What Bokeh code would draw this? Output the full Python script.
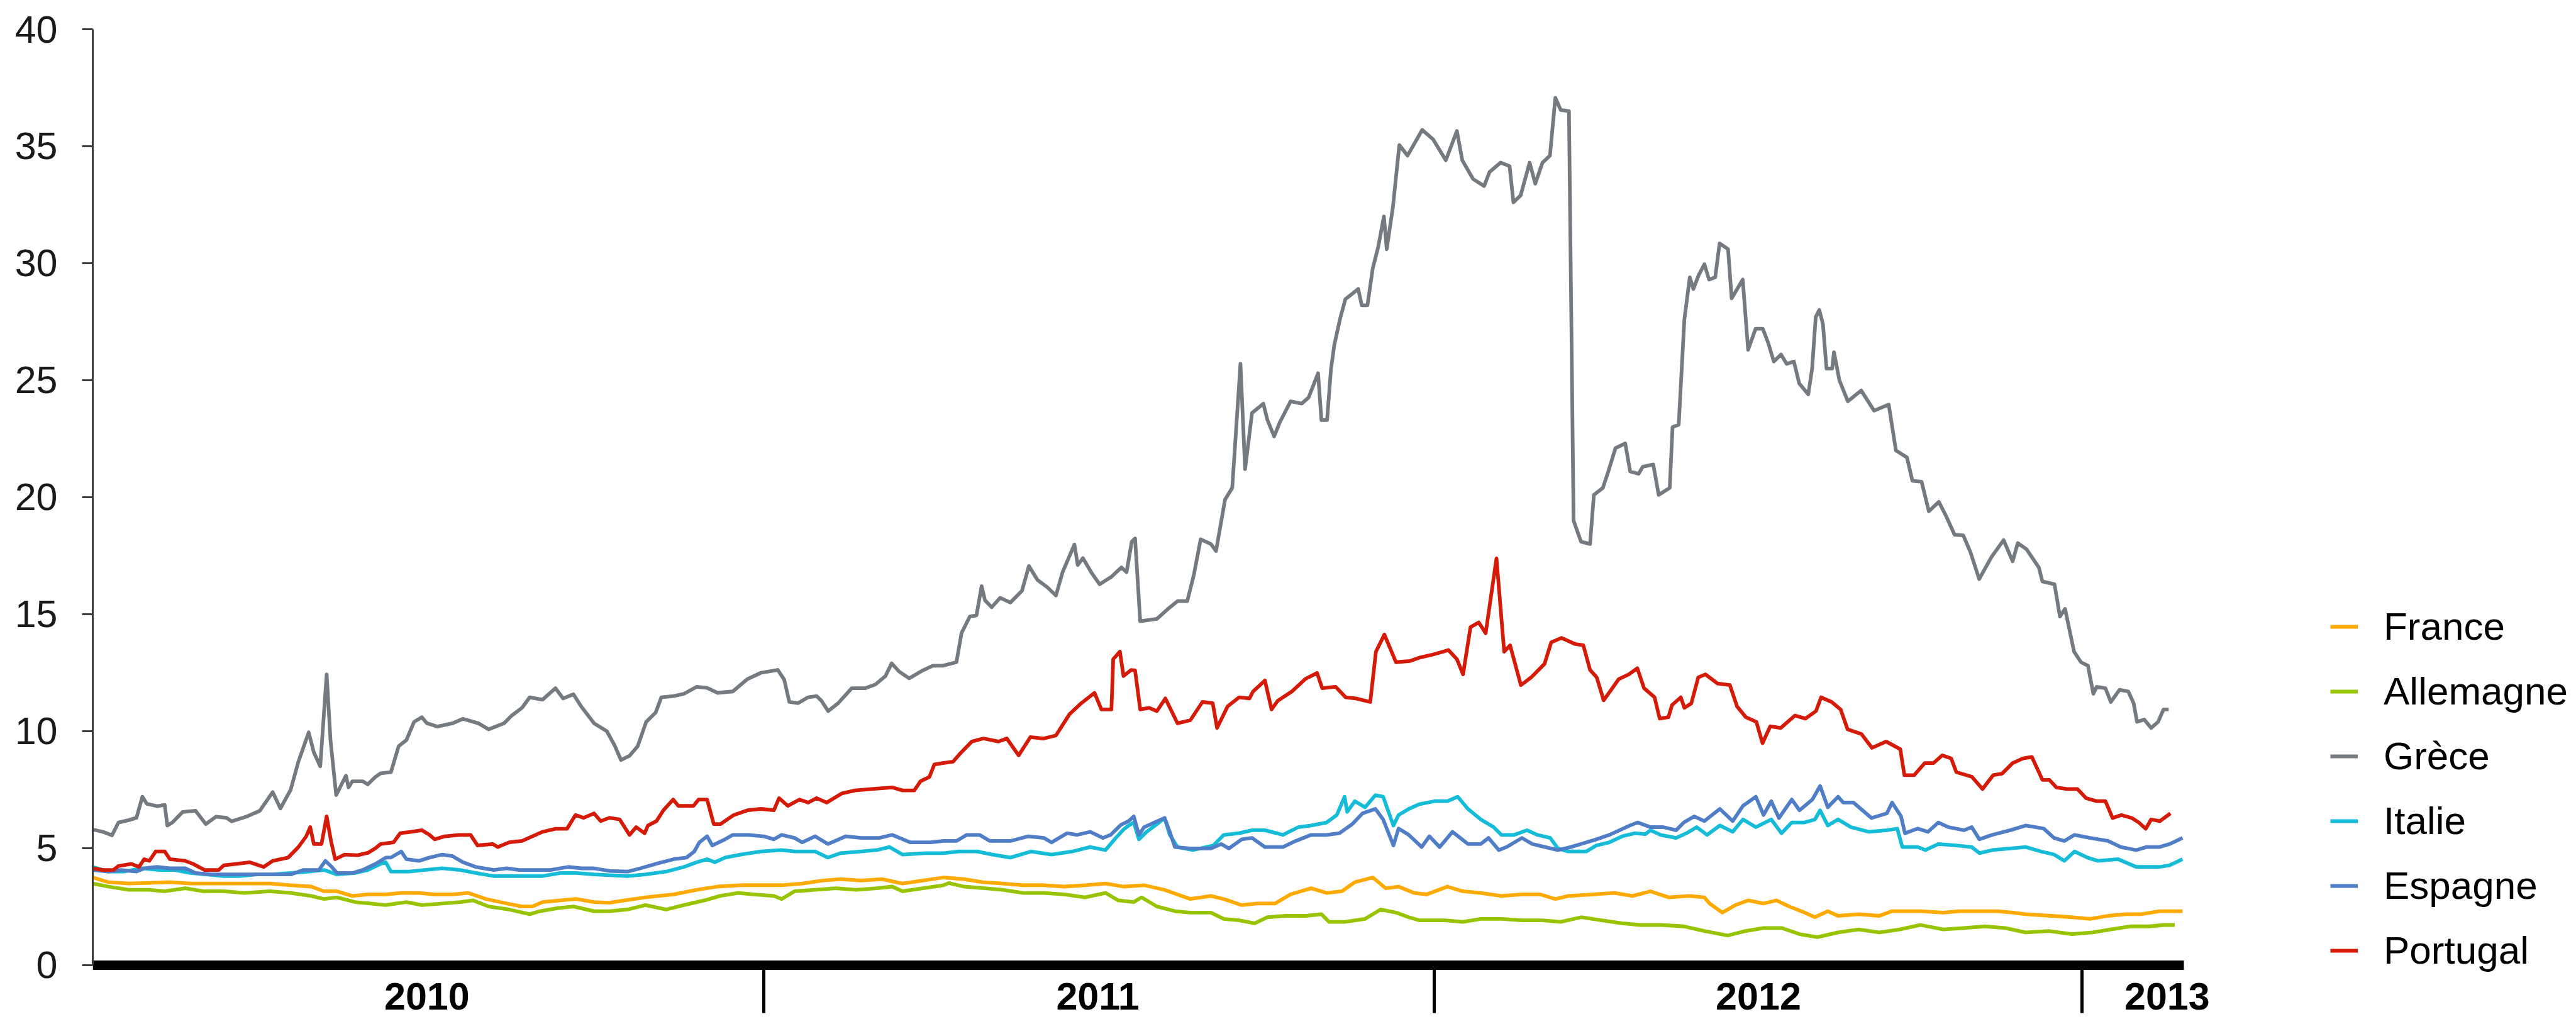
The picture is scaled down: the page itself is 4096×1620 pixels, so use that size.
from bokeh.plotting import figure
from bokeh.models import FixedTicker, Legend, LegendItem, Range1d, LabelSet, ColumnDataSource
from bokeh.core.properties import value
from bokeh.embed import file_html
from bokeh.resources import INLINE

# ---- axis data ----
years = ["2010", "2011", "2012", "2013"]
year_label_pos = [130, 391, 648, 807]        # trading-day index of each year label
year_label_y = [-1.34, -1.34, -1.34, -1.34]  # just below the axis bar
year_bounds = [261, 522, 774]               # trading-day index of Jan 1st 2011/2012/2013
x_end = 813.5                               # last trading day shown
y_ticks = [0, 5, 10, 15, 20, 25, 30, 35, 40]

series_names = ["France", "Allemagne", "Grèce", "Italie", "Espagne", "Portugal"]
series_colors = ["#FFAA00", "#97C400", "#747A80", "#14BCD8", "#4F7EC6", "#D51A08"]

# ---- series (x = trading-day index since 2010-01-01, y = 10-year yield %) ----
fr_pts = [(0,3.75),(6,3.55),(14,3.49),(22,3.52),(30,3.55),(38,3.49),(45,3.49),(53,3.49),(61,3.49),(69,3.49),(77,3.42),(85,3.36),(90,3.16),(95,3.16),(101,2.96),(107,3.03),(114,3.03),(120,3.09),(127,3.09),(133,3.03),(140,3.03),(146,3.09),(153,2.83),(161,2.64),(167,2.51),(171,2.51),(175,2.7),(182,2.77),(188,2.83),(195,2.7),(201,2.67),(207,2.77),(215,2.9),(226,3.03),(235,3.22),(243,3.36),(252,3.42),(260,3.42),(268,3.42),(276,3.49),(284,3.62),(291,3.68),(299,3.62),(307,3.68),(315,3.49),(323,3.62),(331,3.75),(339,3.68),(346,3.55),(354,3.49),(362,3.42),(370,3.42),(378,3.36),(386,3.42),(394,3.49),(401,3.36),(409,3.42),(417,3.22),(427,2.83),(435,2.96),(440,2.83),(447,2.57),(453,2.64),(460,2.64),(466,3.03),(474,3.29),(480,3.09),(486,3.16),(491,3.55),(498,3.75),(503,3.29),(508,3.36),(514,3.09),(519,3.03),(527,3.36),(533,3.16),(540,3.09),(548,2.96),(556,3.03),(563,3.03),(569,2.83),(574,2.96),(584,3.03),(592,3.09),(599,2.96),(606,3.16),(613,2.9),(621,2.96),(627,2.9),(629,2.64),(634,2.25),(639,2.57),(644,2.77),(650,2.64),(655,2.77),(660,2.51),(666,2.25),(670,2.05),(675,2.31),(679,2.11),(687,2.18),(695,2.11),(700,2.31),(711,2.31),(720,2.25),(726,2.31),(733,2.31),(741,2.31),(747,2.25),(752,2.18),(762,2.11),(770,2.05),(777,1.98),(784,2.11),(791,2.18),(797,2.18),(804,2.31),(808,2.31),(813,2.31)]
fr_x = [a for a, b in fr_pts]
france = [b for a, b in fr_pts]

de_pts = [(0,3.49),(6,3.36),(14,3.22),(22,3.22),(28,3.16),(36,3.29),(43,3.16),(51,3.16),(59,3.09),(69,3.16),(77,3.09),(85,2.96),(90,2.83),(95,2.9),(102,2.7),(108,2.64),(114,2.57),(122,2.7),(128,2.57),(136,2.64),(143,2.7),(148,2.77),(154,2.51),(162,2.38),(170,2.18),(174,2.31),(181,2.44),(187,2.51),(195,2.31),(201,2.31),(208,2.38),(215,2.57),(223,2.38),(230,2.57),(238,2.77),(244,2.96),(251,3.09),(257,3.03),(265,2.96),(268,2.83),(273,3.16),(281,3.22),(289,3.29),(297,3.22),(305,3.29),(311,3.36),(315,3.16),(323,3.29),(331,3.42),(333,3.51),(339,3.36),(347,3.29),(354,3.22),(362,3.09),(370,3.09),(378,3.03),(386,2.9),(394,3.09),(399,2.77),(405,2.7),(408,2.9),(414,2.51),(421,2.31),(427,2.25),(435,2.25),(440,1.98),(446,1.92),(452,1.79),(457,2.05),(464,2.11),(472,2.11),(478,2.18),(481,1.85),(487,1.85),(495,1.98),(501,2.38),(507,2.25),(512,2.05),(516,1.92),(526,1.92),(533,1.85),(540,1.98),(548,1.98),(556,1.92),(564,1.92),(571,1.85),(579,2.05),(587,1.92),(595,1.79),(602,1.72),(610,1.72),(619,1.66),(627,1.46),(636,1.27),(643,1.46),(650,1.59),(657,1.59),(664,1.33),(671,1.2),(679,1.4),(687,1.53),(695,1.4),(703,1.53),(711,1.72),(720,1.53),(728,1.59),(736,1.66),(744,1.59),(752,1.4),(761,1.46),(770,1.33),(778,1.4),(785,1.53),(793,1.66),(800,1.66),(806,1.72),(810,1.72)]
de_x = [a for a, b in de_pts]
allemagne = [b for a, b in de_pts]

gr_pts = [(0,5.8),(4,5.7),(7.5,5.55),(10,6.1),(14,6.2),(17,6.3),(19.3,7.2),(21,6.9),(25,6.8),(28,6.85),(29,5.97),(31,6.1),(35,6.55),(40,6.6),(44,6.03),(48,6.35),(52,6.3),(54,6.15),(60,6.36),(65,6.6),(70,7.4),(73,6.7),(77,7.5),(80,8.7),(84,9.95),(86,9.1),(88.5,8.5),(91,12.43),(92.5,9.6),(94.7,7.27),(98.5,8.1),(99.5,7.6),(101,7.86),(105,7.86),(107,7.73),(110,8.05),(112,8.2),(116,8.25),(119,9.36),(122,9.62),(125,10.4),(128,10.6),(130,10.34),(134,10.2),(140,10.34),(144,10.53),(150,10.34),(154,10.08),(160,10.34),(163,10.67),(167,11.0),(170,11.45),(175,11.35),(180,11.84),(183,11.4),(187,11.58),(190,11.06),(195,10.34),(200,10.0),(203,9.4),(205.5,8.77),(208.8,8.95),(212,9.36),(215.3,10.4),(219,10.8),(221.2,11.45),(226,11.5),(230,11.6),(235,11.9),(239,11.85),(243,11.64),(249,11.7),(254.7,12.23),(260,12.5),(266.5,12.62),(269,12.2),(271,11.25),(274.4,11.2),(278.3,11.45),(281.6,11.5),(283.5,11.3),(286.1,10.86),(290,11.2),(295.3,11.84),(300.6,11.84),(304.5,12.0),(308.4,12.36),(310.8,12.9),(313.7,12.55),(317.6,12.26),(322.9,12.6),(326.8,12.8),(330.7,12.8),(336,12.95),(338,14.2),(341.2,14.9),(343.8,14.95),(345.8,16.2),(347.1,15.6),(349.7,15.3),(353,15.7),(357,15.5),(361.5,16.0),(364.2,17.06),(367.5,16.47),(371.4,16.15),(374.7,15.8),(377.3,16.8),(381.9,17.98),(383.2,17.1),(385.2,17.4),(388.4,16.8),(391.7,16.28),(396.3,16.6),(400.2,17.0),(402.2,16.8),(404.2,18.1),(405.5,18.24),(407.5,14.7),(414,14.8),(418,15.2),(422,15.56),(425.8,15.56),(428.4,16.7),(431,18.2),(435,18.0),(437,17.7),(440.5,19.9),(443.3,20.4),(446.5,25.7),(448.3,21.2),(451,23.6),(455.4,24.0),(457,23.3),(459.6,22.6),(461.8,23.2),(466,24.1),(470.3,24.0),(473,24.26),(476.7,25.3),(478,23.3),(480.2,23.3),(481.7,25.46),(483,26.5),(485.2,27.6),(487.3,28.46),(492.3,28.9),(493.7,28.2),(495.9,28.2),(498,29.8),(500.1,30.7),(502.3,32.0),(503.4,30.6),(505.8,32.4),(508.3,35.05),(511.5,34.6),(517.2,35.7),(521.4,35.3),(526.4,34.4),(530.7,35.65),(532.8,34.4),(537,33.6),(541.3,33.3),(543.4,33.9),(547.7,34.3),(551.2,34.15),(552.7,32.6),(555.5,32.9),(559,34.3),(561.2,33.4),(564,34.3),(566.9,34.6),(569,37.07),(571.1,36.55),(574.3,36.5),(576.1,19.0),(579,18.1),(582.5,18.0),(584,20.1),(587.5,20.4),(589.6,21.1),(592.4,22.1),(596.2,22.3),(598.1,21.1),(601.4,21.0),(603,21.3),(607.1,21.4),(609.2,20.1),(613.5,20.4),(614.6,23.0),(617,23.1),(619.2,27.6),(621.3,29.4),(622.7,28.9),(624.8,29.5),(627,29.96),(628.8,29.3),(631.2,29.4),(632.9,30.85),(636.2,30.6),(637.6,28.5),(641.9,29.3),(644,26.3),(646.9,27.2),(649.7,27.2),(651.8,26.6),(654,25.8),(656.8,26.1),(659,25.7),(661.8,25.8),(663.9,24.86),(667.4,24.4),(668.9,25.5),(670.3,27.7),(671.7,28.0),(673.1,27.4),(674.5,25.5),(676.7,25.5),(677.4,26.2),(679.5,25.0),(682.8,24.1),(688,24.56),(693,23.7),(698.7,23.96),(701.5,22.0),(705.8,21.7),(707.9,20.7),(711.5,20.66),(714.3,19.4),(718.2,19.8),(721,19.2),(724.3,18.4),(727.7,18.37),(730.5,17.65),(733.9,16.5),(738.7,17.45),(743.4,18.17),(746.9,17.26),(748.9,18.04),(752.3,17.78),(757.1,17.0),(758.5,16.4),(763.2,16.28),(765.3,14.9),(767.3,15.23),(770.8,13.4),(773.5,12.95),(776.2,12.8),(778.3,11.6),(779.6,11.9),(783,11.84),(785.1,11.25),(788.5,11.77),(791.9,11.7),(794,11.19),(795.3,10.4),(798.1,10.5),(800.8,10.14),(803.5,10.4),(805.6,10.93),(807.6,10.93)]
gr_x = [a for a, b in gr_pts]
grece = [b for a, b in gr_pts]

it_pts = [(0,4.2),(6,4.0),(12,4.0),(19,4.14),(26,4.07),(32,4.07),(38,3.94),(44,3.88),(51,3.81),(57,3.81),(64,3.88),(70,3.88),(77,3.94),(84,4.0),(90,4.07),(95,3.88),(102,3.94),(107,4.07),(112,4.33),(114,4.4),(116,4.0),(123,4.0),(129,4.07),(136,4.14),(143,4.07),(149,3.94),(156,3.81),(162,3.81),(169,3.81),(175,3.81),(182,3.94),(188,3.94),(195,3.88),(201,3.85),(208,3.81),(215,3.88),(223,4.0),(230,4.2),(235,4.4),(239,4.53),(242,4.4),(246,4.6),(252,4.73),(260,4.86),(268,4.92),(273,4.86),(281,4.86),(286,4.6),(291,4.79),(299,4.86),(305,4.92),(310,5.05),(315,4.73),(324,4.79),(331,4.79),(337,4.86),(344,4.86),(350,4.73),(357,4.6),(365,4.86),(373,4.73),(381,4.86),(388,5.05),(394,4.92),(398,5.44),(401,5.8),(403,5.97),(405,6.1),(407,5.38),(410,5.7),(414,6.03),(417,6.29),(419,5.57),(422,5.05),(428,4.92),(436,5.12),(440,5.57),(446,5.64),(451,5.77),(456,5.77),(463,5.57),(469,5.9),(474,5.97),(480,6.1),(484,6.42),(487,7.2),(488,6.55),(491,7.01),(495,6.75),(499,7.27),(502,7.2),(506,5.97),(508,6.42),(512,6.68),(516,6.88),(522,7.01),(527,7.01),(531,7.2),(535,6.68),(540,6.23),(545,5.9),(548,5.57),(553,5.57),(558,5.77),(562,5.57),(567,5.44),(570,4.99),(574,4.86),(581,4.86),(585,5.12),(590,5.25),(595,5.51),(600,5.64),(604,5.6),(606,5.77),(610,5.57),(616,5.44),(620,5.64),(624,5.9),(628,5.57),(633,5.97),(638,5.7),(642,6.23),(647,5.9),(653,6.23),(657,5.64),(661,6.1),(666,6.1),(670,6.23),(672,6.62),(675,5.97),(679,6.23),(684,5.9),(691,5.7),(698,5.77),(702,5.84),(704,5.05),(710,5.05),(713,4.92),(718,5.18),(725,5.12),(731,5.05),(734,4.79),(739,4.92),(746,4.99),(752,5.05),(758,4.86),(763,4.73),(767,4.46),(771,4.86),(776,4.6),(780,4.46),(788,4.53),(795,4.2),(800,4.2),(804,4.2),(808,4.27),(813,4.53)]
it_x = [a for a, b in it_pts]
italie = [b for a, b in it_pts]

es_pts = [(0,4.07),(6,4.0),(11,4.07),(17,4.0),(20,4.14),(25,4.2),(30,4.14),(36,4.14),(40,3.94),(46,3.88),(51,3.88),(56,3.88),(61,3.88),(67,3.88),(72,3.88),(77,3.88),(82,4.07),(88,4.07),(90.5,4.46),(93,4.2),(95,3.94),(101,3.94),(105,4.07),(110,4.33),(114,4.6),(116,4.6),(120,4.86),(122,4.53),(127,4.46),(131,4.6),(136,4.73),(140,4.66),(144,4.4),(149,4.2),(156,4.07),(161,4.14),(166,4.07),(171,4.07),(178,4.07),(185,4.2),(190,4.14),(195,4.14),(201,4.03),(208,4.0),(213,4.14),(219,4.33),(226,4.53),(231,4.6),(234,4.86),(236,5.25),(239,5.51),(241,5.12),(246,5.38),(249,5.57),(255,5.57),(261,5.51),(265,5.38),(268,5.57),(273,5.44),(276,5.25),(281,5.51),(286,5.18),(293,5.51),(299,5.44),(306,5.44),(311,5.57),(318,5.25),(326,5.25),(331,5.31),(336,5.31),(340,5.57),(345,5.57),(349,5.31),(357,5.31),(364,5.51),(370,5.44),(373,5.25),(379,5.64),(383,5.57),(388,5.7),(393,5.44),(396,5.57),(400,6.0),(403,6.16),(405,6.36),(407,5.57),(409,5.9),(413,6.1),(417,6.29),(419,5.7),(421,5.05),(427,4.99),(435,4.99),(439,5.18),(442,4.99),(447,5.38),(451,5.44),(456,5.05),(463,5.05),(468,5.31),(474,5.57),(480,5.57),(485,5.64),(490,6.03),(494,6.49),(499,6.68),(502,6.23),(506,5.12),(508,5.84),(512,5.57),(517,5.05),(520,5.51),(524,5.05),(529,5.7),(532,5.44),(535,5.18),(540,5.18),(543,5.44),(547,4.92),(550,5.05),(556,5.44),(560,5.18),(565,5.05),(570,4.92),(575,5.05),(579,5.18),(585,5.38),(590,5.57),(594,5.77),(598,5.97),(601,6.1),(606,5.9),(611,5.9),(616,5.77),(619,6.1),(623,6.36),(627,6.16),(633,6.68),(638,6.16),(642,6.81),(647,7.2),(650,6.42),(653,7.01),(656,6.29),(661,7.08),(664,6.62),(669,7.08),(672,7.66),(675,6.75),(679,7.2),(681,6.95),(685,6.95),(692,6.29),(698,6.49),(700,6.95),(703.5,6.36),(705,5.64),(710,5.84),(714,5.7),(718,6.1),(722,5.9),(728,5.77),(731,5.9),(734,5.38),(739,5.57),(746,5.77),(752,5.97),(759,5.84),(763,5.44),(767,5.31),(771,5.57),(777,5.44),(784,5.31),(789,5.05),(795,4.92),(799,5.05),(804,5.05),(808,5.18),(813,5.44)]
es_x = [a for a, b in es_pts]
espagne = [b for a, b in es_pts]

pt_pts = [(0,4.14),(4,4.07),(8,4.07),(10,4.24),(15,4.33),(18,4.2),(20,4.53),(22,4.46),(24.5,4.86),(28,4.86),(30,4.53),(36,4.46),(39,4.33),(43.5,4.07),(49,4.07),(51,4.27),(56,4.33),(61,4.4),(66.5,4.2),(70,4.46),(76,4.6),(80,5.05),(83,5.5),(84.6,5.9),(86,5.18),(89,5.18),(91,6.36),(92.7,5.3),(94.3,4.53),(98,4.73),(103,4.7),(107,4.8),(110,5.0),(112,5.18),(117,5.25),(119.6,5.64),(124,5.7),(128,5.77),(131,5.57),(133,5.38),(137,5.51),(142.5,5.57),(147,5.57),(149.7,5.12),(155.6,5.18),(157.6,5.05),(162,5.25),(167,5.31),(175,5.7),(180,5.83),(184.5,5.83),(187.8,6.42),(191,6.3),(195,6.49),(197.6,6.16),(201,6.3),(205,6.23),(208.8,5.57),(211.4,5.9),(214.7,5.64),(216,5.97),(219.3,6.16),(222,6.62),(225.8,7.08),(227.8,6.81),(233.7,6.81),(235.7,7.08),(239,7.08),(241.6,6.03),(244.2,6.03),(249.4,6.42),(254.7,6.62),(260,6.68),(265,6.62),(267,7.14),(270.4,6.81),(275,7.08),(278.3,6.95),(281.6,7.14),(285.5,6.95),(291.4,7.34),(296.6,7.47),(303,7.53),(311,7.6),(315,7.47),(319.6,7.47),(322,7.86),(325.5,8.05),(327.4,8.58),(330.7,8.64),(334.7,8.7),(337.3,9.03),(342,9.56),(346.5,9.69),(352.4,9.56),(355.6,9.69),(360.2,8.97),(364.8,9.75),(370,9.69),(374.7,9.82),(380,10.73),(384.5,11.19),(389.7,11.64),(392.4,10.93),(396.3,10.93),(397,13.08),(399.6,13.4),(401,12.36),(404,12.62),(405.5,12.6),(407.5,10.93),(411,11.0),(414,10.86),(417.3,11.4),(422,10.34),(427,10.47),(431.7,11.25),(435.7,11.2),(437.4,10.14),(441.5,11.06),(446,11.45),(450,11.4),(451.4,11.7),(456,12.17),(458.6,10.93),(461,11.3),(466.5,11.7),(471.7,12.23),(476.3,12.49),(478.3,11.84),(483.5,11.9),(487.4,11.45),(491.4,11.4),(497,11.25),(499.2,13.4),(502.5,14.13),(507,12.95),(512.4,13.0),(516.3,13.15),(521.5,13.28),(527.4,13.47),(530.7,13.08),(533.1,12.43),(536,14.45),(539.2,14.65),(541.9,14.19),(546.1,17.39),(549.1,13.4),(551.4,13.67),(555.6,11.97),(559.6,12.3),(564.8,12.88),(567.4,13.8),(571.4,13.99),(576.6,13.73),(579.9,13.67),(582.5,12.62),(585.1,12.3),(587.8,11.32),(593.7,12.23),(597.6,12.43),(600.9,12.69),(603.5,11.84),(607.6,11.45),(609.6,10.54),(613,10.6),(614.4,11.12),(617.8,11.45),(619.2,11.0),(621.9,11.19),(624.6,12.3),(627.4,12.43),(632.1,12.04),(636.9,11.97),(639.7,11.06),(643.1,10.6),(647.2,10.4),(649.6,9.49),(652.6,10.21),(656.7,10.14),(662.2,10.67),(666.3,10.54),(670.4,10.86),(672.4,11.45),(676.5,11.25),(680,10.93),(682.7,10.08),(688.1,9.88),(692.2,9.29),(697.7,9.56),(703.2,9.23),(704.8,8.12),(708.6,8.12),(712.7,8.64),(716.1,8.64),(719.5,8.97),(723,8.84),(725,8.25),(731.1,8.05),(735.2,7.53),(739.3,8.12),(742.8,8.19),(746.9,8.64),(751,8.84),(754.4,8.9),(758.5,7.92),(761.2,7.92),(763.9,7.6),(768,7.53),(772.1,7.53),(775.5,7.14),(779.6,7.01),(783,7.01),(785.8,6.29),(789.2,6.42),(793.3,6.29),(796,6.1),(798.7,5.83),(800.8,6.23),(804.2,6.16),(808.3,6.49)]
pt_x = [a for a, b in pt_pts]
portugal = [b for a, b in pt_pts]

series_x = [fr_x, de_x, gr_x, it_x, es_x, pt_x]
series_y = [france, allemagne, grece, italie, espagne, portugal]

FONT = "Liberation Sans"

# The frame spans the whole right/bottom part of the canvas so that the legend and
# the year labels (drawn below the bar) sit inside it; axes are bounded to the data.
p = figure(width=4096, height=1620, output_backend="svg", toolbar_location=None,
           x_range=Range1d(0, 966.2), y_range=Range1d(-2.312, 40),
           min_border_left=147, min_border_right=0, min_border_top=46, min_border_bottom=0)
p.outline_line_color = None
p.xgrid.visible = False
p.ygrid.visible = False
p.background_fill_color = "white"
p.border_fill_color = "white"

renderers = []
for xs, ys, c in zip(series_x, series_y, series_colors):
    r = p.line(xs, ys, line_color=c, line_width=5.8, line_join="round")
    renderers.append(r)

# x axis: thick black bar at y = 0 with long year separators
xax = p.xaxis[0]
xax.fixed_location = 0
xax.bounds = (0, x_end)
xax.ticker = FixedTicker(ticks=year_bounds, minor_ticks=[])
xax.axis_line_color = "black"
xax.axis_line_width = 15
xax.major_tick_line_color = "black"
xax.major_tick_line_width = 5
xax.major_tick_out = 76
xax.major_tick_in = 0
xax.minor_tick_line_color = None
xax.major_label_standoff = 0
xax.major_label_text_font_size = "1px"
xax.major_label_text_color = None

# year labels centred on each year, below the bar
year_src = ColumnDataSource(dict(x=year_label_pos, y=year_label_y, text=years))
p.add_layout(LabelSet(x="x", y="y", text="text", source=year_src,
                      text_font=value(FONT), text_font_style="bold", text_font_size=value("61px"),
                      text_color="black", text_align="center", text_baseline="middle"))

yax = p.yaxis[0]
yax.bounds = (0, 40)
yax.ticker = FixedTicker(ticks=y_ticks)
yax.axis_line_color = "#3C3C3C"
yax.axis_line_width = 3
yax.major_tick_line_color = "#3C3C3C"
yax.major_tick_line_width = 3
yax.major_tick_out = 17
yax.major_tick_in = 0
yax.minor_tick_line_color = None
yax.major_label_standoff = 39
yax.major_label_text_font = FONT
yax.major_label_text_font_size = "61px"
yax.major_label_text_color = "#1A1A1A"

legend = Legend(items=[LegendItem(label=n, renderers=[r]) for n, r in zip(series_names, renderers)],
                location=(3558, 74), orientation="vertical",
                glyph_width=44, glyph_height=70, label_height=70, label_standoff=41,
                spacing=32, padding=0, margin=0,
                border_line_color=None, background_fill_alpha=0,
                label_text_font=FONT, label_text_font_size="62px", label_text_color="black",
                label_text_baseline="middle")
p.add_layout(legend, "center")

open("out.html", "w").write(file_html(p, INLINE))
